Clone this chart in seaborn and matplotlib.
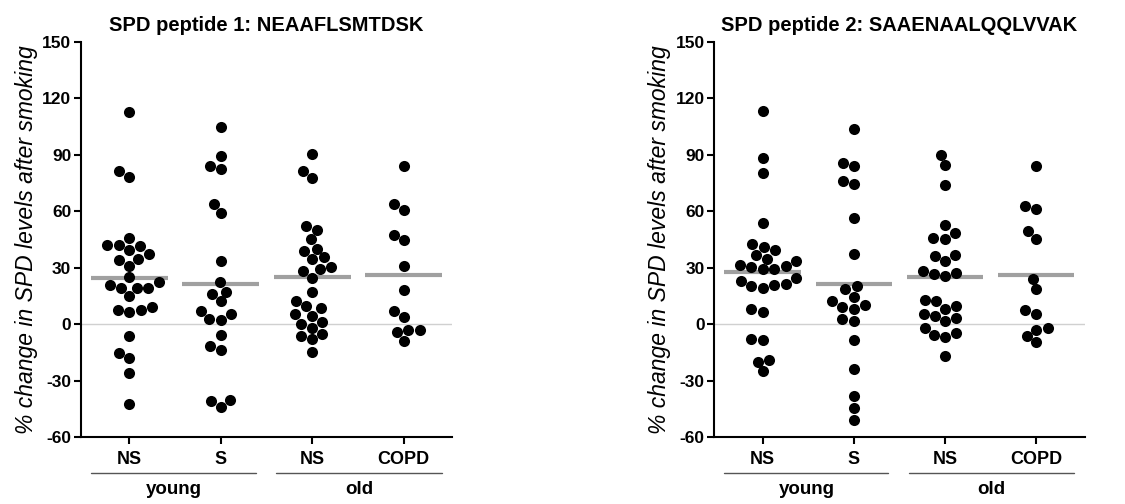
import numpy as np
import pandas as pd
import matplotlib
matplotlib.use("Agg")
import matplotlib.pyplot as plt
import seaborn as sns

sns.set_style("ticks")
plt.rcParams['font.family'] = ['Liberation Sans', 'DejaVu Sans']
plt.rcParams['axes.unicode_minus'] = False
plt.rcParams['text.color'] = 'black'
plt.rcParams['axes.labelcolor'] = 'black'

# ── data ────────────────────────────────────────────────────────
GROUPS = ["young NS", "young S", "old NS", "old COPD"]
TICK_LABELS = ["NS", "S", "NS", "COPD"]

p1_young_ns = [112.8, 81.2, 78.3, 45.9, 42.2, 41.8, 41.3, 39.2, 37.2, 34.8, 33.9, 30.9,
               24.9, 22.1, 20.8, 19.4, 19.4, 19.1, 14.8, 9.0, 7.6, 7.6, 6.5,
               -6.4, -15.4, -18.2, -25.9, -42.7]
p1_young_s = [104.5, 89.1, 83.8, 82.4, 63.7, 59.1, 33.4, 22.2, 17.3, 15.9, 12.0, 7.1,
              5.3, 2.8, 2.1, -5.6, -11.6, -13.8, -40.4, -40.8, -43.9]
p1_old_ns = [90.3, 81.2, 77.5, 52.1, 50.1, 45.2, 40.1, 38.8, 35.6, 34.6, 30.4, 29.3,
             28.2, 24.7, 16.9, 12.4, 9.5, 8.5, 5.1, 4.4, 1.1, 0.0,
             -1.9, -5.1, -6.4, -8.1, -15.0]
p1_old_copd = [83.8, 63.7, 60.7, 47.6, 44.8, 30.9, 18.2, 7.2, 3.9, -3.2, -4.1, -3.2, -8.8]

p2_young_ns = [113.1, 88.2, 80.3, 53.6, 42.4, 40.9, 39.2, 36.5, 34.8, 33.5, 31.6, 30.7,
               30.4, 29.5, 29.3, 24.4, 22.8, 21.4, 20.5, 20.1, 19.1, 7.8, 6.4,
               -7.9, -8.6, -18.9, -19.9, -25.2]
p2_young_s = [103.6, 85.6, 84.2, 75.9, 74.3, 56.3, 37.2, 20.3, 18.7, 14.6, 12.2, 9.9,
              9.2, 7.9, 2.6, 1.4, -8.6, -24.0, -38.3, -44.6, -51.2]
p2_old_ns = [90.0, 84.5, 73.9, 52.4, 48.5, 45.9, 45.4, 36.9, 36.4, 33.5, 28.4, 27.2,
             26.5, 25.4, 12.7, 12.0, 9.5, 8.1, 5.6, 4.4, 3.4, 1.4,
             -1.9, -4.9, -5.8, -7.1, -16.9]
p2_old_copd = [84.2, 63.0, 60.9, 49.6, 45.2, 24.2, 18.5, 7.4, 5.3, -2.3, -3.4, -6.4, -9.7]

PANELS = [
    ("SPD peptide 1: NEAAFLSMTDSK", [p1_young_ns, p1_young_s, p1_old_ns, p1_old_copd]),
    ("SPD peptide 2: SAAENAALQQLVVAK", [p2_young_ns, p2_young_s, p2_old_ns, p2_old_copd]),
]


def long_df(series):
    rows = []
    for g, vals in zip(GROUPS, series):
        rows += [(g, v) for v in vals]
    return pd.DataFrame(rows, columns=["group", "value"])


fig = plt.figure(figsize=(11.25, 5.04), dpi=100)
axes = [fig.add_axes([0.072, 0.133, 0.330, 0.784]),
        fig.add_axes([0.635, 0.133, 0.329, 0.784])]

for ax, (title, series) in zip(axes, PANELS):
    df = long_df(series)
    means = df.groupby("group")["value"].mean().reindex(GROUPS)

    # zero line, group means (grey bars) and dots
    ax.axhline(0, color="#d0d0d0", lw=1, zorder=0)
    for i, m in enumerate(means):
        ax.hlines(m, i - 0.42, i + 0.42, color="#a0a0a0", lw=3, zorder=1)
    sns.swarmplot(data=df, x="group", y="value", order=GROUPS, color="black",
                  size=8, linewidth=0, ax=ax, zorder=3)

    ax.set_xlim(-0.53, 3.53)
    ax.set_ylim(-60, 150)
    ax.set_yticks(np.arange(-60, 151, 30))
    ax.set_xticks(range(4))
    ax.set_xticklabels(TICK_LABELS)
    for lab in ax.get_yticklabels():
        lab.set_fontweight("bold")
        lab.set_fontsize(12.5)
    for lab in ax.get_xticklabels():
        lab.set_fontweight("bold")
        lab.set_fontsize(13)
    ax.tick_params(axis="both", direction="out", length=5, width=1.5, colors="black")
    ax.tick_params(axis="y", pad=2)
    ax.tick_params(axis="x", pad=5)
    sns.despine(ax=ax)
    for side in ["left", "bottom"]:
        ax.spines[side].set_linewidth(1.5)
        ax.spines[side].set_color("black")

    ax.set_xlabel("")
    ax.set_ylabel("% change in SPD levels after smoking", fontsize=16.5,
                  fontstyle="italic", labelpad=3)
    ax.set_title(title, fontsize=14.5, fontweight="bold", pad=8)

    # group brackets below the axis
    tr = ax.get_xaxis_transform()
    for x0, x1, name in [(-0.42, 1.38, "young"), (1.60, 3.42, "old")]:
        ax.plot([x0, x1], [-0.091, -0.091], color="#555555", lw=1,
                transform=tr, clip_on=False)
        ax.text((x0 + x1) / 2, -0.133, name, transform=tr, ha="center", va="center",
                fontsize=13.5, fontweight="bold")

fig.savefig("out.png", dpi=100)
